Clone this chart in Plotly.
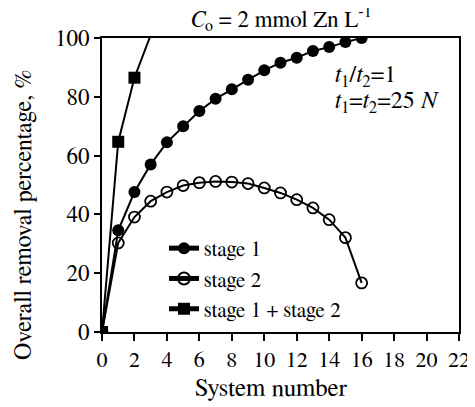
import plotly.graph_objects as go

system = list(range(0, 17))
stage1 = [0, 34.6, 47.6, 57.0, 64.5, 70.0, 75.2, 79.3, 82.6, 85.8, 89.0, 91.6, 93.3, 95.6, 96.9, 98.6, 100.0]
stage2 = [0, 30.3, 39.1, 44.5, 47.6, 49.8, 50.8, 51.2, 51.0, 50.5, 49.0, 47.3, 45.0, 42.2, 38.2, 32.1, 16.7]
combo_x = [0, 1, 2, 3]
combo_y = [0, 64.7, 86.5, 101.0]

FONT = "FreeSerif"
OFF = 8  # page body margin
W, H = 475 - OFF, 407 - OFF
L, R, T, B = 102 - OFF, 16, 38 - OFF, 75
PW, PH = W - L - R, H - T - B


def px_x(p):
    return (p - OFF - L) / PW


def px_y(p):
    return (H - B - (p - OFF)) / PH


fig = go.Figure()
fig.add_trace(go.Scatter(x=system, y=stage1, mode="lines+markers", name="stage 1",
                         line=dict(color="black", width=2),
                         marker=dict(symbol="circle", size=12, color="#000000", opacity=1)))
fig.add_trace(go.Scatter(x=system, y=stage2, mode="lines+markers", name="stage 2",
                         line=dict(color="black", width=2),
                         marker=dict(symbol="circle-open", size=11, color="#000000", opacity=1,
                                     line=dict(width=1.8))))
fig.add_trace(go.Scatter(x=combo_x, y=combo_y, mode="lines+markers", name="stage 1 + stage 2",
                         line=dict(color="black", width=2),
                         marker=dict(symbol="square", size=[12, 12, 12, 0], color="#000000", opacity=1,
                                     line=dict(width=0, color="#000000"))))

fig.update_layout(
    width=W, height=H,
    margin=dict(l=L, r=R, t=T, b=B, autoexpand=False),
    paper_bgcolor="white", plot_bgcolor="white",
    font=dict(family=FONT, size=22, color="black"),
    showlegend=True,
    legend=dict(x=px_x(164), y=px_y(228), xanchor="left", yanchor="top", itemsizing="constant",
                bgcolor="rgba(0,0,0,0)", font=dict(family=FONT, size=21, color="black"),
                tracegroupgap=0),
    xaxis=dict(range=[0, 22], tickvals=list(range(0, 23, 2)), showgrid=False, zeroline=False,
               showline=True, linecolor="black", linewidth=2, mirror=True, automargin=False,
               ticks="outside", ticklen=7, tickwidth=2, tickcolor="black",
               tickfont=dict(family=FONT, size=22)),
    yaxis=dict(range=[0, 100], tickvals=[0, 20, 40, 60, 80, 100], showgrid=False, zeroline=False,
               showline=True, linecolor="black", linewidth=2, mirror=True, automargin=False,
               ticks="outside", ticklen=6, tickwidth=2, tickcolor="black",
               tickfont=dict(family=FONT, size=23)),
)

# axis titles
fig.add_annotation(xref="paper", yref="paper", x=px_x(271), y=px_y(388), xanchor="center", yanchor="middle",
                   showarrow=False, text="System number", font=dict(family=FONT, size=25))
fig.add_annotation(xref="paper", yref="paper", x=px_x(24), y=px_y(215), xanchor="center", yanchor="middle",
                   showarrow=False, textangle=-90, text="Overall removal percentage, %",
                   font=dict(family=FONT, size=24))

fig.add_annotation(xref="paper", yref="paper", x=px_x(281), y=px_y(19), yanchor="middle", xanchor="center",
                   showarrow=False,
                   text="<i>C</i><sub>o</sub> = 2 mmol Zn L<sup>-1</sup>", font=dict(family=FONT, size=23))
fig.add_annotation(xref="paper", yref="paper", x=px_x(333), y=px_y(76), xanchor="left", yanchor="middle",
                   showarrow=False, text="<i>t</i><sub>1</sub>/<i>t</i><sub>2</sub>=1",
                   font=dict(family=FONT, size=24))
fig.add_annotation(xref="paper", yref="paper", x=px_x(333), y=px_y(102), xanchor="left", yanchor="middle",
                   showarrow=False, text="<i>t</i><sub>1</sub>=<i>t</i><sub>2</sub>=25 <i>N</i>",
                   font=dict(family=FONT, size=24))

fig.write_html("out.html")
